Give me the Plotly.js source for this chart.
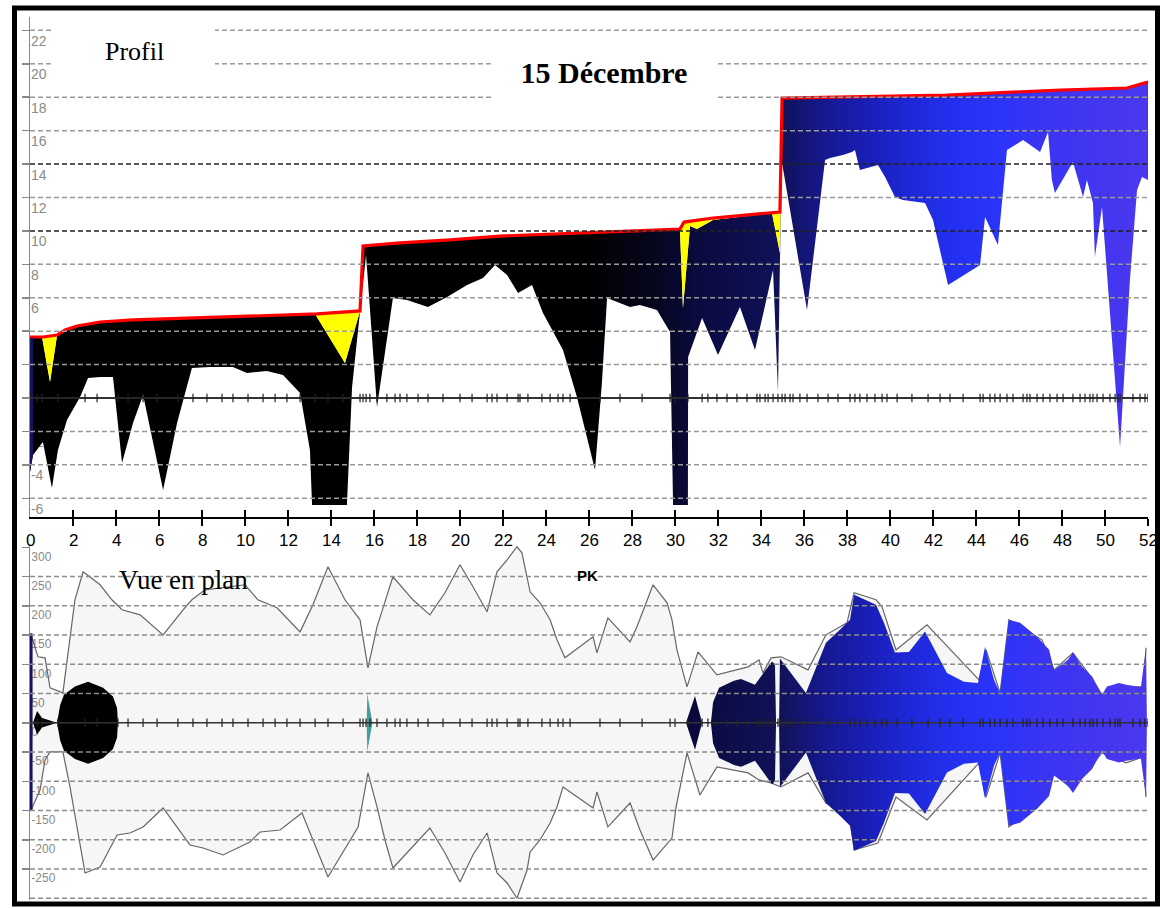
<!DOCTYPE html>
<html><head><meta charset="utf-8">
<script src="https://cdn.plot.ly/plotly-3.0.1.min.js"></script>
<style>html,body{margin:0;padding:0;background:#fff;}#chart{width:1160px;height:909px;}</style>
</head><body><div id="chart"></div>
<script>
// ---------- DATA : Profil (top) ----------
const profilePK = [0, 0.14, 0.60, 1.02, 1.30, 1.72, 2.33, 2.70, 3.26, 3.86, 4.28, 4.79, 5.26, 6.19, 6.84, 7.53, 8.37, 9.44, 10.09, 11.02, 11.77, 12.56, 13.02, 13.12, 14.74, 14.98, 15.21, 15.63, 16.14, 16.88, 17.53, 18.51, 19.40, 20.33, 21.07, 21.63, 22.19, 22.70, 23.35, 23.86, 24.79, 25.44, 26.28, 26.60, 26.84, 27.91, 28.37, 29.16, 29.77, 29.91, 30.60, 30.61, 31.26, 32.00, 33.02, 33.72, 34.56, 34.79, 34.88, 34.98, 36.14, 36.98, 37.21, 37.81, 38.23, 38.37, 38.60, 39.44, 39.77, 40.23, 40.60, 41.63, 42.00, 42.70, 44.19, 44.42, 45.02, 45.44, 46.19, 46.98, 47.35, 47.53, 47.67, 48.51, 48.98, 49.16, 49.44, 49.53, 49.86, 50.70, 51.16, 51.49, 51.72, 52.00];
const bedLevel = [-4.43, -3.41, -2.63, -5.39, -3.11, -1.32, 0.06, 1.20, 1.26, 1.26, -3.89, -1.50, 0.18, -5.51, -1.50, 1.80, 1.86, 1.86, 1.50, 1.62, 1.38, 0.30, -3.11, -6.40, -6.40, 0.66, 3.47, 8.56, -0.54, 5.98, 5.86, 5.45, 6.04, 6.76, 7.18, 7.96, 7.36, 6.28, 6.76, 5.09, 2.87, 0.06, -4.31, 0.90, 5.98, 5.45, 5.57, 5.27, 3.95, -6.40, -6.40, 2.45, 4.79, 2.57, 5.45, 2.87, 7.66, 0.36, 8.14, 14.06, 5.27, 14.24, 14.36, 14.54, 14.72, 14.84, 13.64, 13.94, 13.23, 12.03, 11.85, 11.67, 10.65, 6.76, 7.96, 10.83, 9.16, 14.84, 15.44, 14.72, 15.92, 13.05, 12.27, 14.12, 12.03, 13.05, 11.67, 8.44, 11.43, -2.93, 7.06, 12.45, 13.23, 13.05];

const waterPK = [0, 0.60, 1.26, 1.63, 2.19, 3.26, 4.79, 7.91, 11.02, 13.35, 15.35, 15.49, 17.21, 19.53, 21.86, 24.19, 26.51, 29.77, 30.23, 30.42, 31.77, 34.88, 34.98, 42.65, 44.79, 47.91, 51.02, 52.00];
const waterLevel = [3.65, 3.65, 3.77, 4.07, 4.31, 4.55, 4.67, 4.79, 4.91, 5.03, 5.21, 9.10, 9.28, 9.46, 9.69, 9.81, 9.93, 10.05, 10.11, 10.53, 10.77, 11.13, 17.95, 18.13, 18.25, 18.43, 18.55, 18.91];

const fillTopPK = [0, 0.56, 0.93, 1.26, 1.63, 2.19, 3.26, 4.79, 7.91, 11.02, 13.26, 14.65, 15.35, 15.49, 17.21, 19.53, 21.86, 24.19, 26.51, 29.77, 30.23, 30.37, 30.70, 31.02, 31.77, 34.51, 34.88, 34.98, 42.65, 44.79, 47.91, 51.02, 52.00];
const fillTopLevel = [3.59, 3.65, 0.96, 3.77, 4.07, 4.31, 4.55, 4.67, 4.79, 4.91, 5.03, 2.09, 5.21, 9.10, 9.28, 9.46, 9.69, 9.81, 9.93, 10.05, 10.11, 5.39, 10.29, 10.11, 10.65, 11.07, 8.68, 17.95, 18.13, 18.25, 18.43, 18.55, 18.91];

const inletPK = [0, 0.14];
const inletBed = [-4.43, -3.41];
const inletTop = [3.59, 3.60];

// cross-section positions (ticks on the axis line)
const sectionPK = [0, 0.33, 0.56, 1.30, 2.56, 3.12, 4.09, 4.56, 5.26, 5.91, 6.88, 7.58, 8.23, 8.93, 9.44, 10.14, 10.84, 11.40, 11.95, 12.56, 13.26, 13.86, 14.56, 15.35, 15.49, 15.63, 15.81, 16.14, 16.60, 16.98, 17.21, 17.53, 18.05, 18.51, 19.21, 20.00, 20.56, 21.26, 21.49, 21.72, 22.19, 22.70, 22.79, 23.16, 23.81, 24.19, 24.56, 24.79, 25.12, 26.51, 27.44, 28.47, 29.77, 30.00, 30.60, 31.26, 31.53, 31.95, 32.42, 32.88, 33.35, 33.81, 33.95, 34.19, 34.33, 34.56, 34.79, 34.98, 35.12, 35.35, 35.49, 35.81, 36.14, 36.65, 37.12, 37.58, 38.14, 38.37, 38.60, 38.93, 39.30, 39.63, 39.86, 40.33, 41.02, 41.77, 42.33, 42.79, 43.40, 44.19, 44.33, 44.65, 44.88, 45.12, 45.44, 45.72, 46.19, 46.37, 46.51, 46.84, 47.12, 47.44, 47.77, 48.05, 48.51, 48.84, 49.07, 49.30, 49.44, 49.63, 49.91, 50.23, 50.47, 50.60, 50.70, 51.30, 51.63, 51.86, 52.00];

// ---------- DATA : Vue en plan (bottom) ----------
const bankUpperPK = [0.05, 0.37, 0.70, 0.93, 1.53, 1.86, 2.09, 2.47, 3.26, 3.81, 4.28, 5.12, 6.19, 7.12, 7.53, 8.14, 8.93, 10.00, 10.60, 11.49, 12.56, 13.16, 13.86, 14.65, 15.35, 15.72, 16.14, 16.60, 16.88, 17.81, 18.60, 19.30, 20.00, 20.47, 21.26, 21.72, 22.19, 22.65, 22.88, 23.26, 23.72, 24.19, 24.51, 24.88, 26.19, 26.37, 26.88, 27.91, 28.23, 28.98, 29.63, 29.86, 30.09, 30.56, 31.07, 31.95, 33.40, 33.91, 34.09, 34.47, 34.93, 36.19, 37.02, 38.00, 38.33, 39.35, 39.63, 40.28, 41.72, 44.14, 44.47, 45.12, 45.53, 47.07, 47.63, 48.51, 49.21, 49.86, 50.33, 50.98, 51.77, 51.91];
const bankUpper = [150.4, 112.8, 111.1, 59.8, 51.2, 147.0, 210.3, 258.2, 236.0, 210.3, 193.2, 184.6, 150.4, 193.2, 210.3, 227.4, 230.8, 236.0, 210.3, 196.6, 155.5, 201.7, 266.7, 210.3, 176.1, 94.0, 164.1, 215.4, 249.7, 210.3, 184.6, 222.3, 270.2, 241.1, 189.8, 258.2, 278.7, 301.0, 290.7, 224.0, 205.2, 176.1, 141.9, 111.1, 147.0, 119.6, 179.5, 138.4, 164.1, 236.0, 205.2, 176.1, 124.7, 61.4, 121.3, 81.9, 95.6, 107.6, 85.4, 111.1, 112.8, 90.5, 150.4, 170.9, 222.3, 210.3, 198.3, 124.7, 167.5, 73.4, 124.7, 51.2, 176.1, 141.9, 90.5, 119.6, 85.4, 47.7, 61.4, 61.4, 61.4, 128.2];
const bankLowerPK = [0.05, 0.47, 0.70, 0.93, 1.53, 1.86, 2.56, 3.26, 4.05, 4.65, 5.26, 6.19, 7.44, 8.05, 8.98, 10.23, 10.70, 11.63, 12.65, 13.86, 15.26, 15.72, 16.14, 16.51, 16.88, 17.67, 18.60, 19.30, 20.00, 20.60, 21.26, 21.72, 22.19, 22.65, 23.12, 23.26, 23.72, 24.19, 24.51, 24.79, 26.19, 26.37, 26.88, 27.91, 28.37, 28.98, 29.86, 30.05, 30.56, 31.16, 31.95, 33.40, 33.91, 34.47, 34.93, 36.19, 37.02, 38.14, 38.33, 39.44, 40.28, 41.72, 44.14, 44.47, 45.12, 45.53, 47.07, 47.63, 48.51, 49.21, 49.86, 50.33, 50.98, 51.77, 51.91];
const bankLower = [-149.0, -114.8, -63.5, -49.8, -49.8, -109.7, -256.8, -246.6, -191.8, -188.4, -178.1, -145.6, -208.9, -214.1, -226.0, -203.8, -186.7, -183.3, -154.2, -263.7, -178.1, -85.7, -143.9, -200.4, -248.3, -217.5, -179.9, -222.7, -272.3, -226.0, -188.4, -256.8, -273.9, -300.0, -251.7, -220.9, -200.4, -171.3, -143.9, -109.7, -145.6, -118.2, -178.1, -137.1, -183.3, -234.7, -197.1, -143.9, -51.5, -123.4, -75.5, -85.7, -97.7, -102.8, -109.7, -85.7, -137.1, -161.1, -217.5, -205.5, -126.8, -166.2, -68.6, -126.8, -51.5, -178.1, -136.1, -85.7, -114.8, -80.6, -51.5, -58.3, -68.6, -58.3, -126.8];

const planWaterPK = [0.14, 0.33, 0.56, 1.07, 1.26, 1.40, 1.58, 2.09, 2.70, 3.40, 3.86, 4.05, 4.09, 30.51, 30.93, 31.26, 31.67, 31.77, 32.05, 32.74, 33.07, 33.72, 34.19, 34.51, 34.65, 34.70, 34.84, 34.88, 36.09, 37.02, 37.67, 38.14, 38.33, 39.35, 39.72, 40.23, 40.88, 41.63, 42.65, 43.44, 44.09, 44.42, 44.84, 45.12, 45.53, 46.05, 46.84, 47.40, 47.63, 48.28, 48.51, 48.93, 49.40, 49.86, 50.09, 50.65, 50.98, 51.67, 51.91, 51.95];
const planWaterHalf = [0, 20, 8, 3, 0, 30, 48, 62, 70, 60, 45, 25, 0, 0, 46, 0, 0, 35, 60, 72, 75, 65, 90, 105, 100, 0, 0, 110, 51, 137, 159, 176, 219, 202, 171, 120, 121, 156, 85, 70, 68, 130, 73, 51, 176, 171, 147, 125, 90, 108, 120, 96, 79, 48, 62, 68, 65, 61, 128, 0];

const tealPK = [15.66, 15.69, 15.74, 15.86, 15.93];
const tealHalf = [0, 50, 38, 12, 0];

const inletPlanPK = [0.05, 0.05];
const inletPlanY = [153, -149];

const pkTicks = [0, 2, 4, 6, 8, 10, 12, 14, 16, 18, 20, 22, 24, 26, 28, 30, 32, 34, 36, 38, 40, 42, 44, 46, 48, 50, 52];
const profilTicks = [-6, -4, -2, 0, 2, 4, 6, 8, 10, 12, 14, 16, 18, 20, 22];
const planTicks = [-250, -200, -150, -100, -50, 0, 50, 100, 150, 200, 250, 300];
const planGrid = [-300, -250, -200, -150, -100, -50, 50, 100, 150, 200, 250];

// ---------- FIGURE ----------
const W = 1160, H = 909;
const px = v => v / W;
const py = v => 1 - v / H;

const grad = {
  type: 'horizontal', start: 0, stop: 52,
  colorscale: [[0, '#000000'], [0.50, '#000000'], [0.558, '#06061e'], [0.596, '#0a0a3e'],
               [0.673, '#10125a'], [0.712, '#151890'], [0.75, '#1a1fb8'], [0.788, '#1e28d8'],
               [0.827, '#2430f0'], [0.865, '#2a34fb'], [0.904, '#3a34f2'], [1, '#4a38ee']]
};
const none = {width: 0, color: 'rgba(0,0,0,0)'};
const base = {type: 'scatter', mode: 'lines', hoverinfo: 'skip', showlegend: false};
const tickMarker = {symbol: 'line-ns', size: 6, line: {width: 1.2, color: '#222'}};

const traces = [
  // Profil
  {...base, x: profilePK, y: bedLevel, line: none, xaxis: 'x', yaxis: 'y'},
  {...base, x: fillTopPK, y: fillTopLevel, line: none, fill: 'tonexty', fillgradient: grad, xaxis: 'x', yaxis: 'y'},
  {...base, x: waterPK, y: waterLevel, line: {color: '#ff0000', width: 3.2}, fill: 'tonexty', fillcolor: '#ffff00', xaxis: 'x', yaxis: 'y'},
  {...base, x: inletPK, y: inletBed, line: none, xaxis: 'x', yaxis: 'y'},
  {...base, x: inletPK, y: inletTop, line: none, fill: 'tonexty', fillcolor: '#12145e', xaxis: 'x', yaxis: 'y'},
  {...base, mode: 'lines+markers', x: sectionPK, y: sectionPK.map(() => 0), line: {color: '#333', width: 1.4},
   marker: tickMarker, xaxis: 'x', yaxis: 'y'},
  // Vue en plan
  {...base, x: bankUpperPK, y: bankUpper, line: {color: '#666', width: 1.2}, xaxis: 'x2', yaxis: 'y2'},
  {...base, x: bankLowerPK, y: bankLower, line: {color: '#666', width: 1.2}, fill: 'tonexty', fillcolor: 'rgba(0,0,0,0.035)', xaxis: 'x2', yaxis: 'y2'},
  {...base, x: planWaterPK, y: planWaterHalf, line: none, xaxis: 'x2', yaxis: 'y2'},
  {...base, x: planWaterPK, y: planWaterHalf.map(v => -v), line: none, fill: 'tonexty', fillgradient: grad, xaxis: 'x2', yaxis: 'y2'},
  {...base, x: tealPK, y: tealHalf, line: none, xaxis: 'x2', yaxis: 'y2'},
  {...base, x: tealPK, y: tealHalf.map(v => -v), line: none, fill: 'tonexty', fillcolor: '#4a9c9c', xaxis: 'x2', yaxis: 'y2'},
  {...base, x: inletPlanPK, y: inletPlanY, line: {color: '#12145e', width: 3}, xaxis: 'x2', yaxis: 'y2'},
  {...base, mode: 'lines+markers', x: sectionPK, y: sectionPK.map(() => 0), line: {color: '#333', width: 1.4},
   marker: tickMarker, xaxis: 'x2', yaxis: 'y2'},
  // helper for upward ticks on PK axis
  {...base, x: [null], y: [null], xaxis: 'x3', yaxis: 'y'}
];

const shapes = [];
profilTicks.filter(v => v !== 0).forEach(v => shapes.push({
  type: 'line', xref: 'paper', yref: 'y', x0: px(30), x1: px(1148), y0: v, y1: v, layer: 'above',
  line: {color: (v === 14 || v === 10) ? '#222' : '#9a9a9a', width: 1.5, dash: '5px,3px'}
}));
planGrid.forEach(v => shapes.push({
  type: 'line', xref: 'paper', yref: 'y2', x0: px(30), x1: px(1148), y0: v, y1: v, layer: 'above',
  line: {color: '#8c8c8c', width: 1.5, dash: '5px,3px'}
}));
// white label boxes
shapes.push({type: 'rect', xref: 'paper', yref: 'paper', x0: px(53), x1: px(215), y0: py(78), y1: py(24), fillcolor: '#fff', line: {width: 0}, layer: 'above'});
shapes.push({type: 'rect', xref: 'paper', yref: 'paper', x0: px(493), x1: px(717), y0: py(100), y1: py(40), fillcolor: '#fff', line: {width: 0}, layer: 'above'});
// outer frame
shapes.push({type: 'rect', xref: 'paper', yref: 'paper', x0: px(14.5), x1: px(1157.5), y0: py(904), y1: py(8), fillcolor: 'rgba(0,0,0,0)', line: {color: '#000', width: 5}, layer: 'above'});

const sans = 'Liberation Sans, Arial, sans-serif';
const serif = 'Liberation Serif, Times New Roman, serif';

const annotations = [
  {text: 'Profil', xref: 'paper', yref: 'paper', x: px(134), y: py(52), showarrow: false, xanchor: 'center', yanchor: 'middle', font: {family: serif, size: 26, color: '#000'}},
  {text: 'Vue en plan', xref: 'paper', yref: 'paper', x: px(183), y: py(580), showarrow: false, xanchor: 'center', yanchor: 'middle', font: {family: serif, size: 27, color: '#000'}},
  {text: '<b>PK</b>', xref: 'paper', yref: 'paper', x: px(587), y: py(575), showarrow: false, xanchor: 'center', yanchor: 'middle', font: {family: sans, size: 15, color: '#000'}}
];
// PK tick labels
pkTicks.forEach(v => annotations.push({
  text: String(v), xref: 'x', yref: 'paper', x: v, y: py(540), showarrow: false, xanchor: 'center', yanchor: 'middle',
  font: {family: sans, size: 17, color: '#000'}
}));

const layout = {
  width: W, height: H, margin: {l: 0, r: 0, t: 0, b: 0},
  paper_bgcolor: '#fff', plot_bgcolor: '#fff', showlegend: false,
  title: {text: '<b>15 Décembre</b>', x: px(604), y: py(72), xanchor: 'center', yanchor: 'middle', font: {family: serif, size: 30, color: '#000'}},
  xaxis: {domain: [px(30), px(1148)], range: [0, 52], anchor: 'y', tickmode: 'array', tickvals: pkTicks, showticklabels: false,
          ticks: 'outside', ticklen: 7, tickwidth: 2, tickcolor: '#000', showline: true, linecolor: '#000', linewidth: 2,
          showgrid: false, zeroline: false},
  xaxis3: {overlaying: 'x', range: [0, 52], anchor: 'y', side: 'bottom', tickmode: 'array', tickvals: pkTicks, ticks: 'inside', ticklen: 7, tickwidth: 2,
           tickcolor: '#000', showticklabels: false, showline: false, showgrid: false, zeroline: false},
  yaxis: {domain: [py(517), py(17)], range: [-7.12, 22.8], anchor: 'x', tickmode: 'array', tickvals: profilTicks, ticktext: profilTicks.map(String),
          ticks: 'outside', ticklen: 7, tickwidth: 1.5, tickcolor: '#888', showline: true, linecolor: '#888', linewidth: 1.5,
          showgrid: false, zeroline: true, zerolinecolor: '#333', zerolinewidth: 1.5,
          ticklabelposition: 'inside bottom', tickfont: {family: sans, size: 14, color: '#8a8a8a'}, layer: 'below traces'},
  xaxis2: {domain: [px(30), px(1148)], range: [0, 52], anchor: 'y2', visible: false},
  yaxis2: {domain: [py(900), py(545)], range: [-303, 304], anchor: 'x2', tickmode: 'array', tickvals: planTicks, ticktext: planTicks.map(String),
           ticks: 'outside', ticklen: 7, tickwidth: 1.5, tickcolor: '#888', showline: true, linecolor: '#888', linewidth: 1.5,
           showgrid: false, zeroline: false, ticklabelposition: 'inside bottom', tickfont: {family: sans, size: 12, color: '#8a8a8a'}, layer: 'below traces'},
  shapes: shapes,
  annotations: annotations
};

Plotly.newPlot('chart', traces, layout, {displayModeBar: false, staticPlot: true});
</script>
</body></html>
